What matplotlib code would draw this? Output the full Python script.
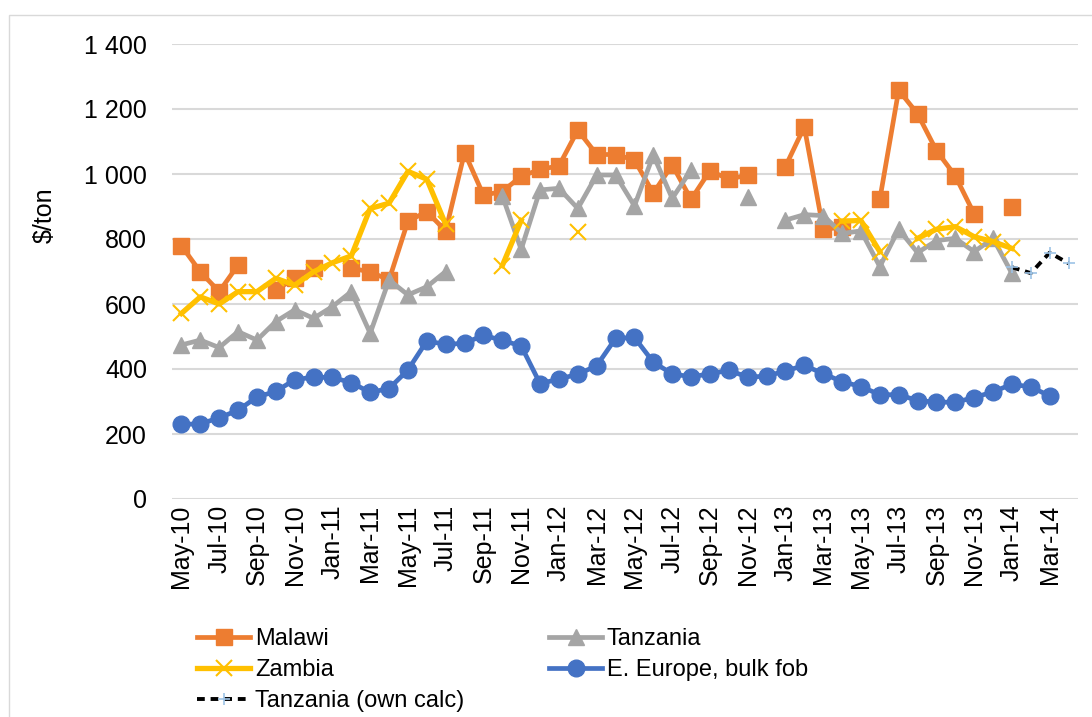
import numpy as np
import pandas as pd
import matplotlib
matplotlib.use('Agg')
import matplotlib.pyplot as plt
from matplotlib.patches import Rectangle
from matplotlib.ticker import FuncFormatter

plt.rcParams['font.family'] = ['Liberation Sans', 'DejaVu Sans']

# monthly categories May-10 .. Apr-14
months = list(pd.date_range('2010-05-01', periods=48, freq='MS').strftime('%b-%y'))
nan = np.nan

malawi = [779, 699, 638, 720, nan, 643, 679, 712, nan, 710, 699, 674,
          855, 884, 825, 1066, 935, 946, 993, 1014, 1025, 1135, 1060, 1060,
          1043, 941, 1028, 922, 1010, 984, 997, nan, 1023, 1145, 830, 836,
          nan, 922, 1258, 1185, 1072, 994, 877, nan, 897, nan, nan, nan]
tanzania = [474, 489, 466, 515, 489, 546, 582, 556, 592, 638, 510, 674,
            628, 653, 700, nan, nan, 933, 768, 951, 956, 894, 997, 997,
            902, 1058, 925, 1012, nan, nan, 930, nan, 858, 875, 872, 817,
            825, 715, 830, 758, 795, 802, 761, 802, 694, nan, nan, nan]
zambia = [571, 622, 600, 638, 638, 679, 658, 699, 727, 748, 894, 910,
          1008, 984, 845, nan, nan, 718, 857, nan, nan, 823, nan, nan,
          nan, nan, nan, nan, nan, nan, nan, nan, nan, nan, nan, 855,
          857, 761, nan, 802, 830, 838, 807, 792, 771, nan, nan, nan]
europe = [230, 231, 250, 273, 314, 331, 367, 375, 374, 358, 328, 340,
          397, 486, 476, 479, 504, 488, 471, 355, 369, 384, 410, 494,
          497, 421, 385, 376, 385, 396, 375, 378, 394, 411, 386, 361,
          346, 321, 321, 303, 298, 298, 312, 330, 353, 345, 317, nan]
tanz_own = [nan] * 44 + [713, 695, 758, 725]

W, H = 1092, 717
fig = plt.figure(figsize=(W / 100, H / 100), dpi=100)
ax = fig.add_axes([172 / W, 1 - 499 / H, (1078 - 172) / W, (499 - 44) / H])

x = np.arange(len(months))
ax.plot(x, malawi, color='#ED7D31', lw=3.4, marker='s', ms=11, label='Malawi', zorder=3)
ax.plot(x, tanzania, color='#A5A5A5', lw=3.4, marker='^', ms=11, label='Tanzania', zorder=4)
ax.plot(x, zambia, color='#FFC000', lw=3.8, marker='x', ms=11, mew=1.5, label='Zambia', zorder=5)
ax.plot(x, europe, color='#4472C4', lw=3.4, marker='o', ms=12, label='E. Europe, bulk fob', zorder=6)
ax.plot(x, tanz_own, color='black', lw=2.8, ls=(0, (2, 1.5)), marker='+', ms=9, mew=1.2,
        mec='#9DC3E6', label='Tanzania (own calc)', zorder=7)

ax.set_xlim(-0.5, len(months) - 0.5)
ax.set_ylim(0, 1400)
ax.set_yticks(range(0, 1401, 200))
ax.yaxis.set_major_formatter(FuncFormatter(lambda v, p: f'{int(v):,}'.replace(',', ' ')))
ax.set_xticks(x[::2])
ax.set_xticklabels(months[::2], rotation=90)
ax.tick_params(axis='both', length=0, labelsize=18)
ax.tick_params(axis='y', pad=18)
ax.tick_params(axis='x', pad=4)
ax.grid(axis='y', color='#D9D9D9', lw=1.5)
ax.set_axisbelow(True)
for s in ax.spines.values():
    s.set_visible(False)

fig.text(45 / W, 1 - 215 / H, '\\$/ton', rotation=90, fontsize=18, ha='center', va='center')

h, l = ax.get_legend_handles_labels()
order = [0, 2, 4, 1, 3]
ax.legend([h[i] for i in order], [l[i] for i in order], ncol=2, frameon=False,
          loc='upper left', bbox_to_anchor=(197 / W, 1 - 628 / H), bbox_transform=fig.transFigure,
          borderpad=0, borderaxespad=0, fontsize=17, handlelength=2.25, handletextpad=0.2,
          labelspacing=0.38, columnspacing=3.6)

fig.patches.append(Rectangle((9 / W, -0.01), 1.0, 1 - 15 / H + 0.01, transform=fig.transFigure,
                             fill=False, edgecolor='#D9D9D9', lw=1))

fig.savefig('out.png', dpi=100)
